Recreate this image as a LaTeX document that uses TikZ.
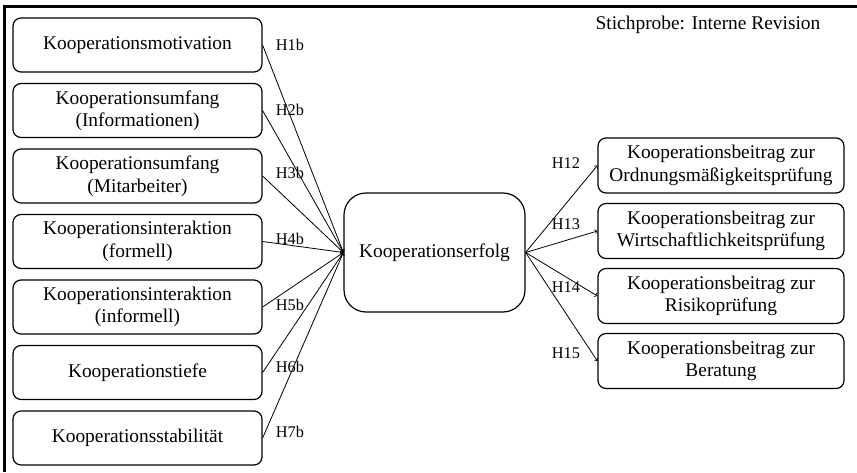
\documentclass[tikz,border=0pt]{standalone}
\usepackage{fontspec}
\setmainfont{Liberation Serif}
\usepackage{tikz}
\tikzstyle{leftbox} = [draw=black, line width=1.2pt, rectangle, rounded corners=8pt,
    minimum width=249pt, minimum height=54pt, inner sep=0pt, align=center,
    font=\fontsize{19.4}{22.5}\selectfont]
\tikzstyle{rightbox} = [leftbox, minimum width=246pt, minimum height=55pt]
\tikzstyle{centerbox} = [leftbox, rounded corners=22pt, minimum width=181pt, minimum height=119pt]
\tikzstyle{hyp} = [font=\fontsize{16.3}{18}\selectfont, inner sep=0pt]
\tikzstyle{link} = [->, line width=0.8pt]

\begin{document}
\begin{tikzpicture}[x=1pt, y=-1pt]
                \useasboundingbox (0,0) rectangle (857,472);
                \draw[line width=3pt] (857,6) -- (4,6) -- (4,472);
                \node[font=\fontsize{19.4}{22.5}\selectfont] (sample) at (708,25) {Stichprobe: Interne Revision};
                % Einflussfaktoren
                \node [leftbox] (motivation) at (137.5,45) {Kooperationsmotivation};
                \node [leftbox] (umfanginfo) at (137.5,110.5) {Kooperationsumfang\\(Informationen)};
                \node [leftbox] (umfangma) at (137.5,176) {Kooperationsumfang\\(Mitarbeiter)};
                \node [leftbox] (formell) at (137.5,241.5) {Kooperationsinteraktion\\(formell)};
                \node [leftbox] (informell) at (137.5,307) {Kooperationsinteraktion\\(informell)};
                \node [leftbox] (tiefe) at (137.5,372.5) {Kooperationstiefe};
                \node [leftbox] (stabilitaet) at (137.5,438) {Kooperationsstabilit\"at};
                % Erfolg
                \node [centerbox] (erfolg) at (434.5,252.5) {Kooperationserfolg};
                % Beitraege
                \node [rightbox] (ordnung) at (721,165.5) {Kooperationsbeitrag zur\\Ordnungsm\"a\ss igkeitspr\"ufung};
                \node [rightbox] (wirtschaft) at (721,231) {Kooperationsbeitrag zur\\Wirtschaftlichkeitspr\"ufung};
                \node [rightbox] (risiko) at (721,296) {Kooperationsbeitrag zur\\Risikopr\"ufung};
                \node [rightbox] (beratung) at (721,361) {Kooperationsbeitrag zur\\Beratung};
                % Pfeile
                \draw[link] (motivation.east) -- (erfolg.west);
                \draw[link] (umfanginfo.east) -- (erfolg.west);
                \draw[link] (umfangma.east) -- (erfolg.west);
                \draw[link] (formell.east) -- (erfolg.west);
                \draw[link] (informell.east) -- (erfolg.west);
                \draw[link] (tiefe.east) -- (erfolg.west);
                \draw[link] (stabilitaet.east) -- (erfolg.west);
                \draw[link] (erfolg.east) -- (ordnung.west);
                \draw[link] (erfolg.east) -- (wirtschaft.west);
                \draw[link] (erfolg.east) -- (risiko.west);
                \draw[link] (erfolg.east) -- (beratung.west);
                % Hypothesen
                \node[hyp] (h1b) at (290,45) {H1b};
                \node[hyp] (h2b) at (290,110) {H2b};
                \node[hyp] (h3b) at (290,173) {H3b};
                \node[hyp] (h4b) at (290,239) {H4b};
                \node[hyp] (h5b) at (290,305) {H5b};
                \node[hyp] (h6b) at (290,367) {H6b};
                \node[hyp] (h7b) at (290,432) {H7b};
                \node[hyp] (h12) at (566,163) {H12};
                \node[hyp] (h13) at (566,224) {H13};
                \node[hyp] (h14) at (566,287) {H14};
                \node[hyp] (h15) at (566,353) {H15};
            \end{tikzpicture}
\end{document}
